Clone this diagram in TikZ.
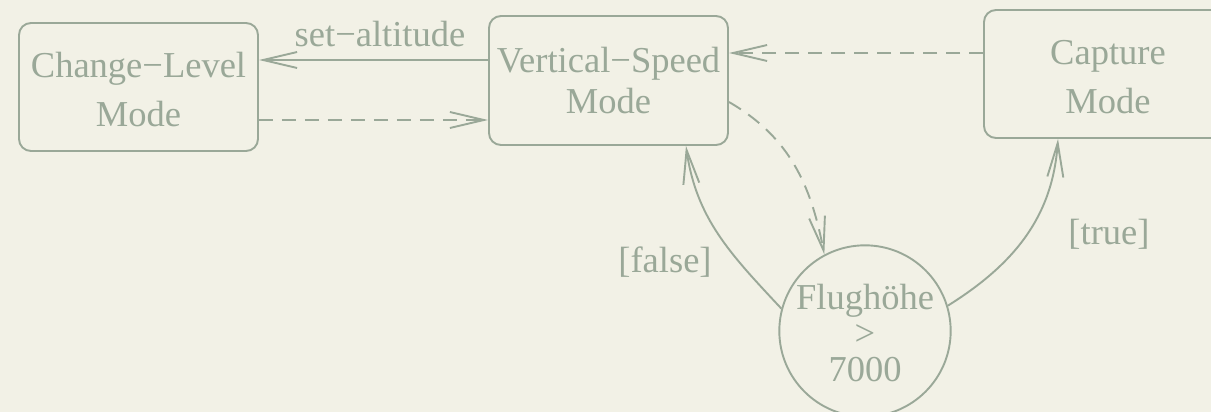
\documentclass[tikz,border=0pt]{standalone}
\usepackage{fontspec}
\setmainfont{Liberation Serif}
\usetikzlibrary{arrows.meta}
\definecolor{paper}{RGB}{242,241,230}
\definecolor{ink}{RGB}{154,168,152}
% strut that lowers a multi-line block a little inside its node
\newcommand\hdstrut{\rule{0pt}{30pt}}
\begin{document}
\begin{tikzpicture}[x=1pt,y=-1pt,
  every node/.style={text=ink, font=\fontsize{36.5}{48.5}\selectfont},
  state/.style={draw=ink, line width=1.9pt, rounded corners=12pt, inner sep=0pt,
    align=center, minimum height=128pt},
  choice/.style={draw=ink, line width=1.9pt, circle, inner sep=0pt,
    minimum size=166pt, align=center, font=\fontsize{36.5}{36}\selectfont},
  flow/.style={draw=ink, line width=1.9pt, -{Straight Barb[length=34pt,width=16pt]}},
  signal/.style={flow, dash pattern=on 14pt off 9pt},
  guard/.style={anchor=base}
]
\fill[paper] (0,0) rectangle (1211,412);
\useasboundingbox (0,0) rectangle (1211,412);

% states
\node[state, minimum width=239pt] (cl) at (138.5,87) {\hdstrut Change−Level\\Mode};
\node[state, minimum width=239pt, minimum height=129pt] (vs) at (608.5,80.5)
  {Vertical−Speed\\[-7.5pt]Mode};
\node[state, minimum width=248pt] (cap) at (1108,74) {\hdstrut Capture\\Mode};

% decision
\node[choice] (dec) at (865,331) {\hdstrut Flughöhe\\>\\7000};

% transitions
\coordinate (a1) at ([yshift=20.5pt]vs.west);
\draw[flow] (a1) -- (a1 -| cl.east)
  node[midway, anchor=base, yshift=13pt, xshift=6.5pt] (lblset) {set−altitude};

\coordinate (a2) at ([yshift=-33pt]cl.east);
\draw[signal] (a2) -- (a2 -| vs.west);

\coordinate (a3) at ([yshift=21pt]cap.west);
\draw[signal] (a3) -- (a3 -| vs.east);

\coordinate (a4) at ([yshift=-21.5pt]vs.east);
\draw[signal] (a4) to[out=-30, in=101] (dec.118);

\coordinate (a5) at ([xshift=77.5pt]vs.south);
\draw[flow] (dec.165) to[out=133, in=-82] (a5);

\coordinate (a6) at ([xshift=-50pt]cap.south);
\draw[flow] (dec.17) to[out=32, in=-94] (a6);

% guards
\node[guard] (gfalse) at (665,272) {[false]};
\node[guard] (gtrue) at (1109,244) {[true]};
\end{tikzpicture}
\end{document}
